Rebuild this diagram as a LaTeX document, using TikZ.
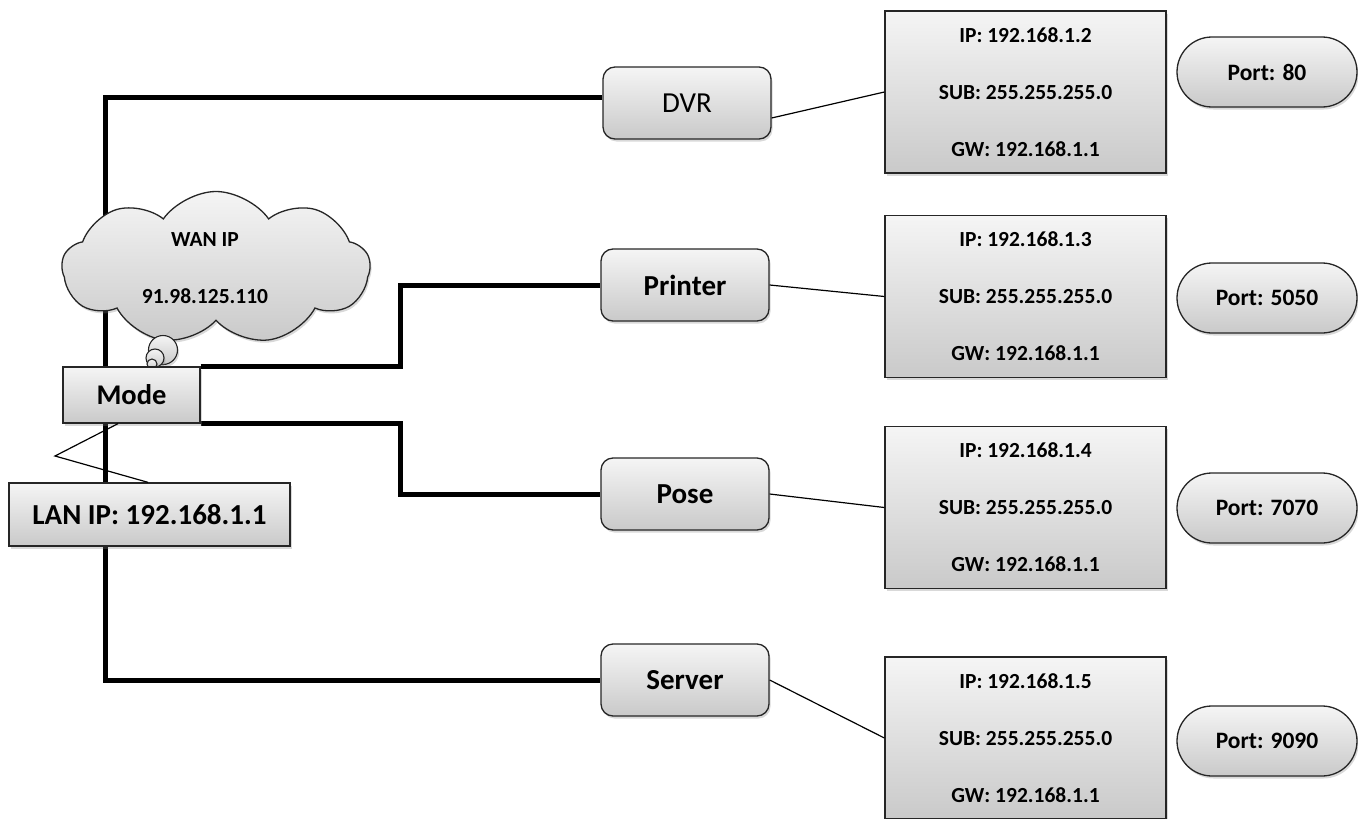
\documentclass[tikz,border=0pt]{standalone}
\usepackage{fontspec}
\setmainfont{Carlito}
\usepackage{tikz}
\usetikzlibrary{shapes.symbols,shadows,backgrounds}

\begin{document}
\begin{tikzpicture}[x=1pt,y=-1pt,
  box/.style={draw=black!85,line width=1.3pt,top color=gray!8,bottom color=gray!42,
    drop shadow={opacity=0.3,shadow xshift=1.5pt,shadow yshift=-2.5pt}},
  device node/.style={box,rectangle,rounded corners=12pt,minimum width=168pt,minimum height=72pt,
    inner sep=0pt,font=\fontsize{29}{33}\selectfont\bfseries},
  info node/.style={box,rectangle,minimum width=281pt,minimum height=162pt,inner sep=0pt,
    align=center,font=\fontsize{21.5}{25}\selectfont\bfseries},
  port node/.style={box,rectangle,rounded corners=35pt,minimum width=180pt,minimum height=70pt,
    inner sep=0pt,font=\fontsize{23.5}{27}\selectfont\bfseries},
  modem node/.style={box,rectangle,inner sep=0pt,font=\fontsize{28.5}{32}\selectfont\bfseries},
  bubble node/.style={box,circle,inner sep=0pt,line width=1.1pt},
  wire/.style={line width=5pt},
  link/.style={line width=1.2pt}]
  \useasboundingbox (0,0) rectangle (1358,819);

  % WAN side
  \node[box,cloud,cloud puffs=9,cloud puff arc=110,aspect=2,minimum width=308pt,minimum height=153pt,inner sep=0pt] (wan) at (216,268) {};
  \node[font=\fontsize{21.5}{25}\selectfont\bfseries,align=center] (wantext) at (205,268) {WAN IP\\[32pt]91.98.125.110};
  \node[bubble node,minimum size=29pt] (b1) at (163,350) {};
  \node[bubble node,minimum size=18pt] (b2) at (155,358) {};
  \node[bubble node,minimum size=10pt] (b3) at (152,364) {};

  \node[modem node,minimum width=137pt,minimum height=56pt] (modem) at (131.5,395) {Mode};
  \node[modem node,minimum width=281pt,minimum height=63pt,font=\fontsize{29}{33}\selectfont\bfseries] (lan) at (149.5,514.5) {LAN IP: 192.168.1.1};
  \coordinate (tail) at (55,456);
  \draw[link] ([xshift=-13.5pt]modem.south) -- (tail) -- ([xshift=-1.5pt]lan.north);

  % devices
  \node[device node,font=\fontsize{29}{33}\selectfont] (dvr) at (687,103) {DVR};
  \node[device node] (printer) at (685,285) {Printer};
  \node[device node] (pose) at (685,494) {Pose};
  \node[device node] (server) at (685,680) {Server};

  % addresses
  \node[info node] (ip1) at (1025.5,92) {IP: 192.168.1.2\\[32pt]SUB: 255.255.255.0\\[32pt]GW: 192.168.1.1};
  \node[info node] (ip2) at (1025.5,296.5) {IP: 192.168.1.3\\[32pt]SUB: 255.255.255.0\\[32pt]GW: 192.168.1.1};
  \node[info node] (ip3) at (1025.5,507.5) {IP: 192.168.1.4\\[32pt]SUB: 255.255.255.0\\[32pt]GW: 192.168.1.1};
  \node[info node] (ip4) at (1025.5,738) {IP: 192.168.1.5\\[32pt]SUB: 255.255.255.0\\[32pt]GW: 192.168.1.1};

  \node[port node] (p80) at (1267,72) {Port: 80};
  \node[port node] (p5050) at (1267,298) {Port: 5050};
  \node[port node] (p7070) at (1267,508) {Port: 7070};
  \node[port node] (p9090) at (1267,741) {Port: 9090};

  \begin{scope}[on background layer]
    \coordinate (trunk) at (105,680);
    \draw[wire] ([yshift=6pt]dvr.west) -| (trunk) -- (server.west);
    \draw[wire] (modem.north east) -- ++(200,0) |- (printer.west);
    \draw[wire] (modem.south east) -- ++(200,0) |- (pose.west);
  \end{scope}

  \draw[link] ([yshift=-15pt]dvr.east) -- (ip1.west);
  \draw[link] (printer.east) -- (ip2.west);
  \draw[link] (pose.east) -- (ip3.west);
  \draw[link] (server.east) -- (ip4.west);
\end{tikzpicture}
\end{document}
